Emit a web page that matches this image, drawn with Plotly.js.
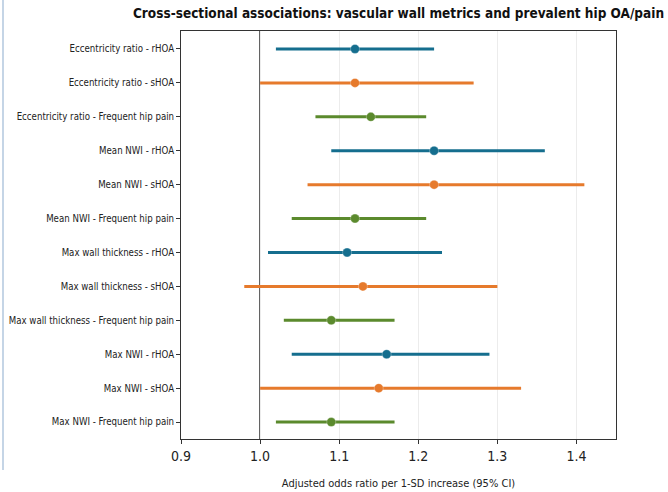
<!DOCTYPE html>
<html>
<head>
<meta charset="utf-8">
<script src="https://cdn.plot.ly/plotly-3.0.1.min.js"></script>
<style>
  html, body { margin: 0; padding: 0; background: #fff; }
  #chart { width: 668px; height: 492px; position: relative; }
  #edge { position: absolute; left: 2px; top: 0; width: 2px; height: 470px; background: #c5d5e6; z-index: 5; }
</style>
</head>
<body>
<div id="edge"></div>
<div id="chart"></div>
<script>
// Row labels (top to bottom)
const rowLabels = [
  "Eccentricity ratio - rHOA",
  "Eccentricity ratio - sHOA",
  "Eccentricity ratio - Frequent hip pain",
  "Mean NWI - rHOA",
  "Mean NWI - sHOA",
  "Mean NWI - Frequent hip pain",
  "Max wall thickness - rHOA",
  "Max wall thickness - sHOA",
  "Max wall thickness - Frequent hip pain",
  "Max NWI - rHOA",
  "Max NWI - sHOA",
  "Max NWI - Frequent hip pain"
];
// Odds ratios and 95% CI, per row
const orValues = [1.12, 1.12, 1.14, 1.22, 1.22, 1.12, 1.11, 1.13, 1.09, 1.16, 1.15, 1.09];
const ciLow    = [1.02, 1.00, 1.07, 1.09, 1.06, 1.04, 1.01, 0.98, 1.03, 1.04, 1.00, 1.02];
const ciHigh   = [1.22, 1.27, 1.21, 1.36, 1.41, 1.21, 1.23, 1.30, 1.17, 1.29, 1.33, 1.17];
// Outcome of each row
const outcomes = ["rHOA","sHOA","pain","rHOA","sHOA","pain","rHOA","sHOA","pain","rHOA","sHOA","pain"];
const outcomeColors = { rHOA: "#156e8e", sHOA: "#e67a2c", pain: "#5b8a2d" };
const xTickVals = [0.9, 1.0, 1.1, 1.2, 1.3, 1.4];
const xTickText = ["0.9", "1.0", "1.1", "1.2", "1.3", "1.4"];

const FONT = "'DejaVu Sans Condensed', 'Liberation Sans Narrow', 'DejaVu Sans', sans-serif";

const traces = Object.keys(outcomeColors).map(function (key) {
  const idx = outcomes.map(function (o, i) { return o === key ? i : -1; }).filter(function (i) { return i >= 0; });
  return {
    type: "scatter",
    mode: "markers",
    x: idx.map(function (i) { return orValues[i]; }),
    y: idx.map(function (i) { return i; }),
    error_x: {
      type: "data",
      symmetric: false,
      array: idx.map(function (i) { return ciHigh[i] - orValues[i]; }),
      arrayminus: idx.map(function (i) { return orValues[i] - ciLow[i]; }),
      color: outcomeColors[key],
      thickness: 3,
      width: 0
    },
    marker: { color: outcomeColors[key], size: 9, line: { color: "rgba(255,255,255,0.6)", width: 0.5 } },
    hoverinfo: "x+y",
    showlegend: false
  };
});

const layout = {
  width: 668,
  height: 492,
  margin: { l: 181, r: 52, t: 31, b: 53 },
  paper_bgcolor: "#ffffff",
  plot_bgcolor: "#ffffff",
  title: {
    text: "<b>Cross-sectional associations: vascular wall metrics and prevalent hip OA/pain</b>",
    font: { family: FONT, size: 13.5, color: "#111111" },
    x: 0.5, xref: "paper", xanchor: "center",
    y: 1, yref: "container", yanchor: "top", pad: { t: 9 }
  },
  xaxis: {
    range: [0.9, 1.45],
    tickvals: xTickVals,
    ticktext: xTickText,
    tickfont: { family: FONT, size: 14, color: "#222222" },
    ticks: "outside", ticklen: 4, tickcolor: "#333333",
    showgrid: true, gridcolor: "#ececec", gridwidth: 1,
    zeroline: false,
    showline: true, linecolor: "#333333", linewidth: 1, mirror: true,
    title: { text: "Adjusted odds ratio per 1-SD increase (95% CI)", font: { family: FONT, size: 11, color: "#222222" }, standoff: 16 }
  },
  yaxis: {
    range: [11.5, -0.53],
    tickvals: rowLabels.map(function (_, i) { return i; }),
    ticktext: rowLabels,
    tickfont: { family: FONT, size: 9.6, color: "#222222" },
    ticks: "outside", ticklen: 4, tickcolor: "#333333",
    showgrid: false, zeroline: false,
    showline: true, linecolor: "#333333", linewidth: 1, mirror: true
  },
  shapes: [{
    type: "line", xref: "x", yref: "paper",
    x0: 1.0, x1: 1.0, y0: 0, y1: 1,
    line: { color: "#000000", width: 1.4 },
    layer: "below"
  }]
};

Plotly.newPlot("chart", traces, layout, { displayModeBar: false, staticPlot: true });
</script>
</body>
</html>
